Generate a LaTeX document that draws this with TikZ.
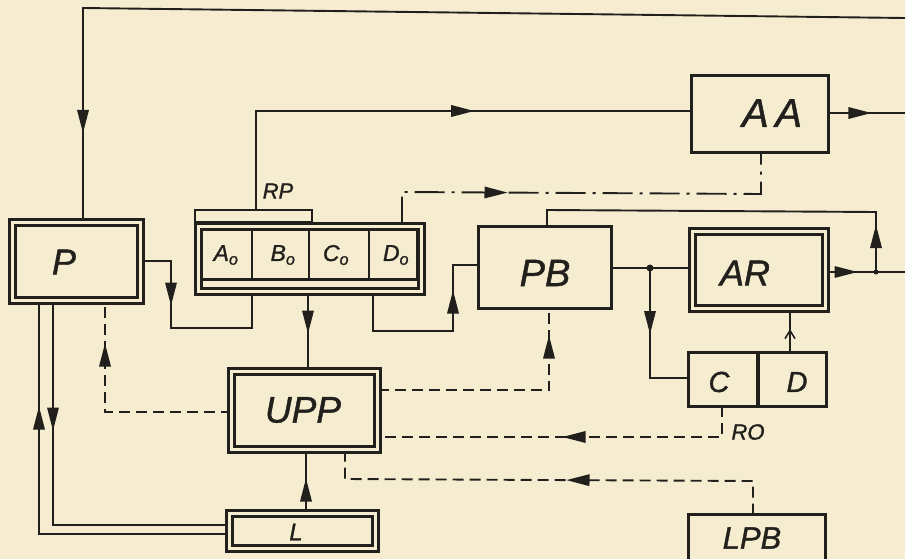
\documentclass[tikz,border=0pt]{standalone}
\usepackage{fontspec}
\setmainfont{Liberation Sans}[ItalicFeatures={FakeBold=1.2}]
\usetikzlibrary{decorations.markings}
\pgfdeclarelayer{bg}
\pgfsetlayers{bg,main}
\definecolor{paper}{RGB}{246,237,209}
\definecolor{ink}{RGB}{34,32,28}
\tikzset{
 conn/.style={draw=ink, line width=1.9pt},
 dsh/.style={dash pattern=on 11pt off 6pt},
 dshdot/.style={dash pattern=on 30pt off 7pt on 3pt off 7pt},
 arr/.style={postaction={decorate}, decoration={markings, mark=at position #1 with {\fill[ink,solid] (12,0) -- (-11,-6) -- (-11,6) -- cycle;}}},
 oarr/.style={postaction={decorate}, decoration={markings, mark=at position #1 with {\draw[ink,solid,line width=1.6pt] (-8,-5) -- (0,0) -- (-8,5);}}},
 sbox/.style={draw=ink, fill=paper, line width=3.2pt, inner sep=0pt, outer sep=0pt},
 dbox/.style={draw=ink, line width=3pt, double=paper, double distance=3pt, fill=paper, inner sep=0pt, outer sep=0pt},
 cell/.style={draw=ink, line width=2.2pt, inner sep=0pt, outer sep=0pt},
 brk/.style={draw=ink, line width=1.9pt, inner sep=0pt, outer sep=0pt},
 lbl/.style={font=\itshape\fontsize{#1}{#1}\selectfont, text=ink, inner sep=0pt},
 jdot/.style={circle, fill=ink, inner sep=0pt, minimum size=#1},
}
\begin{document}
\begin{tikzpicture}[x=1pt,y=-1pt]
\useasboundingbox (0,0) rectangle (905,559);
\begin{pgfonlayer}{bg}
\fill[paper] (0,0) rectangle (905,559);
\end{pgfonlayer}
% boxes
\node[dbox, minimum width=128pt, minimum height=78pt] (P) at (76.5,261.5) {};
\node[brk, minimum width=117pt, minimum height=12.4pt] (RPb) at (253.5,216) {};
\node[dbox, minimum width=223pt, minimum height=65pt] (reg) at (310,259) {};
\node[cell, minimum width=50.2pt, minimum height=50pt] (cA) at (227,254.4) {};
\node[cell, minimum width=57pt, minimum height=50pt] (cB) at (280.5,254.4) {};
\node[cell, minimum width=60pt, minimum height=50pt] (cC) at (339,254.4) {};
\node[cell, minimum width=48.5pt, minimum height=50pt] (cD) at (393.3,254.4) {};
\node[sbox, minimum width=136.8pt, minimum height=76.8pt] (AA) at (760,114) {};
\node[sbox, minimum width=132.8pt, minimum height=81.8pt] (PB) at (545,267.5) {};
\node[dbox, minimum width=133pt, minimum height=77pt] (AR) at (759,270) {};
\node[dbox, minimum width=146pt, minimum height=78pt] (UPP) at (304.5,410.5) {};
\node[dbox, minimum width=146pt, minimum height=35pt] (L) at (302.5,531) {};
\node[sbox, minimum width=69.4pt, minimum height=53.8pt] (Cc) at (723.3,379.5) {};
\node[sbox, minimum width=68.4pt, minimum height=53.8pt] (Dc) at (792.2,379.5) {};
\node[sbox, minimum width=136.8pt, minimum height=64pt] (LPB) at (757,546.5) {};
% labels
\node[lbl=36pt] (tP) at (64,262) {P};
\node[lbl=22pt] (tRP) at (278,191) {RP};
\node[lbl=23pt] (tA) at (226,255) {A\textsubscript{o}};
\node[lbl=23pt] (tB) at (283,255) {B\textsubscript{o}};
\node[lbl=23pt] (tC) at (336,255) {C\textsubscript{o}};
\node[lbl=23pt] (tD) at (396,255) {D\textsubscript{o}};
\node[lbl=40pt] (tAA) at (772,113) {A\,A};
\node[lbl=38pt] (tPB) at (545,273) {PB};
\node[lbl=36pt] (tAR) at (745,273) {AR};
\node[lbl=37pt] (tUPP) at (303,410) {UPP};
\node[lbl=24pt] (tL) at (296,532) {L};
\node[lbl=29pt] (tCc) at (719,382) {C};
\node[lbl=29pt] (tDc) at (797,382) {D};
\node[lbl=22pt] (tRO) at (748,432) {RO};
\node[lbl=31pt] (tLPB) at (752,538) {LPB};
% free ends and junctions
\coordinate (eT) at (905,18);
\coordinate (eAA) at (905,113);
\coordinate (eAR) at (905,272);
\node[jdot=7pt] (j1) at (650,268) {};
\node[jdot=5pt] (j2) at (876,272) {};
\begin{pgfonlayer}{bg}
\draw[conn, arr=935pt] (eT) -- (83,8) -- (P.north -| 83,8);
\draw[conn, arr=63pt] (P.east |- 0,261) -- (171,261) -- (171,328) -- (252,328) -- (reg.south -| 252,0);
\draw[conn, arr=305pt] (RPb.north -| 256,0) -- (256,111) -- (AA.west |- 0,111);
\draw[conn, arr=31pt] (AA.east |- 0,113) -- (eAA);
\draw[conn, dshdot, arr=128pt] (reg.north -| 402,0) -- (402,192) -- (761,194) -- (AA.south -| 761,0);
\draw[conn, arr=30pt] (reg.south -| 308,0) -- (UPP.north -| 308,0);
\draw[conn, arr=148pt] (reg.south -| 373,0) -- (373,331) -- (453,331) -- (453,265) -- (PB.west |- 0,265);
\draw[conn] (PB.east |- 0,268) -- (AR.west |- 0,268);
\draw[conn, arr=54pt] (j1.center) -- (650,378) -- (Cc.west |- 0,378);
\draw[conn, oarr=22pt] (Dc.north -| 790,0) -- (AR.south -| 790,0);
\draw[conn, arr=20pt] (AR.east |- 0,272) -- (eAR);
\draw[conn, arr=35pt] (j2.center) -- (876,212) -- (547,210) -- (PB.north -| 547,0);
\draw[conn, dsh, arr=214pt] (UPP.east |- 0,390) -- (549,390) -- (PB.south -| 549,0);
\draw[conn, dsh, arr=178pt] (Cc.south -| 722,0) -- (722,437) -- (UPP.east |- 0,437);
\draw[conn, dsh, arr=208pt] (LPB.north -| 753,0) -- (753,481) -- (345,479) -- (UPP.south -| 345,0);
\draw[conn, arr=23pt] (L.north -| 306,0) -- (UPP.south -| 306,0);
\draw[conn, dsh, arr=183pt] (UPP.west |- 0,412) -- (105,412) -- (P.south -| 105,0);
\draw[conn, arr=118pt] (P.south -| 53,0) -- (53,525) -- (L.west |- 0,525);
\draw[conn, arr=306pt] (L.west |- 0,534) -- (39,534) -- (P.south -| 39,0);
\end{pgfonlayer}
\end{tikzpicture}
\end{document}
